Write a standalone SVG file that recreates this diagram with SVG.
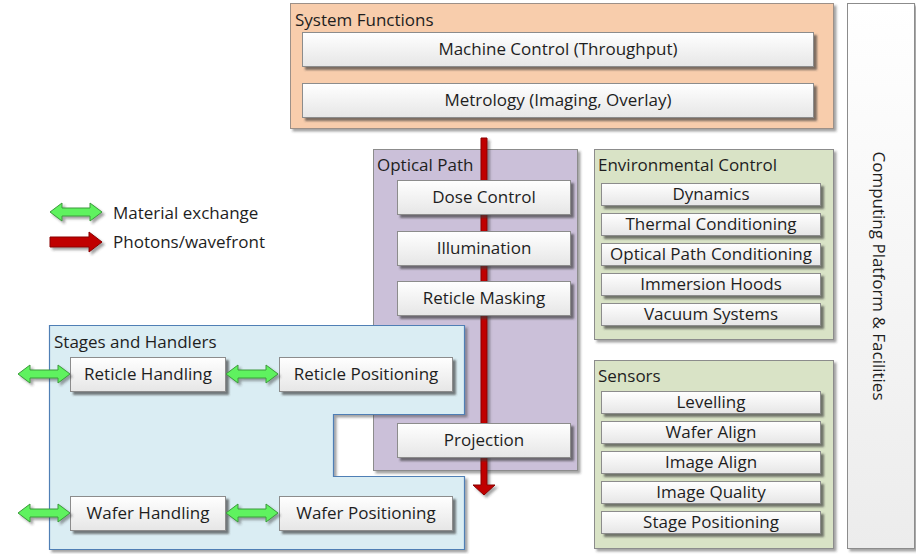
<svg xmlns="http://www.w3.org/2000/svg" width="916" height="554" viewBox="0 0 916 554">
  <defs>
    <filter id="shadow" x="-10%" y="-10%" width="130%" height="140%">
      <feDropShadow dx="3" dy="3" stdDeviation="0.8" flood-color="#3a3a3a" flood-opacity="0.65"/>
    </filter>
    <filter id="softshadow" x="-10%" y="-10%" width="130%" height="140%">
      <feDropShadow dx="2.5" dy="2.5" stdDeviation="1" flood-color="#303030" flood-opacity="0.45"/>
    </filter>
    <linearGradient id="boxfill" x1="0" y1="0" x2="0" y2="1">
      <stop offset="0" stop-color="#ffffff"/>
      <stop offset="1" stop-color="#e6e6e6"/>
    </linearGradient>
    <linearGradient id="platfill" x1="0" y1="0" x2="0" y2="1">
      <stop offset="0" stop-color="#ffffff"/>
      <stop offset="1" stop-color="#ececec"/>
    </linearGradient>
    <!-- double-headed green arrow, 52 wide, centred on y=0 -->
    <path id="dbl" d="M0,0 L12,-9 L12,-4 L40,-4 L40,-9 L52,0 L40,9 L40,4 L12,4 L12,9 Z"/>
  </defs>
  <style>
    text { font-family: "Open Sans", Lato, "DejaVu Sans", sans-serif; fill: #1e1e1e; font-size: 17px; }
    .lbl, .sm { text-anchor: middle; }
    .box { fill: url(#boxfill); stroke: #8c8c8c; stroke-width: 1; filter: url(#shadow); }
    .green { fill: #5ef25e; stroke: #3c9a3c; stroke-width: 1; filter: url(#softshadow); }
    .red { fill: #c00000; stroke: #8a0000; stroke-width: 1; }
  </style>

  <rect width="916" height="554" fill="#ffffff"/>

  <!-- Computing platform column -->
  <g id="computing-platform">
    <rect x="847.5" y="3.5" width="67" height="545" fill="url(#platfill)" stroke="#8c8c8c" filter="url(#softshadow)"/>
    <text class="title" transform="translate(873,276) rotate(90)" text-anchor="middle">Computing Platform &amp; Facilities</text>
  </g>

  <!-- System functions -->
  <g id="system-functions">
    <rect x="290.5" y="3.5" width="543" height="125" fill="#f8cdac" stroke="#9c9088" filter="url(#softshadow)"/>
    <text class="title" x="295" y="26">System Functions</text>
    <g id="machine-control">
      <rect class="box" x="302.5" y="32.5" width="511" height="34"/>
      <text class="lbl" x="558" y="54.5">Machine Control (Throughput)</text>
    </g>
    <g id="metrology">
      <rect class="box" x="302.5" y="83.5" width="511" height="34"/>
      <text class="lbl" x="558" y="105.5">Metrology (Imaging, Overlay)</text>
    </g>
  </g>

  <!-- Optical path container -->
  <g id="optical-path">
    <rect x="373.5" y="149.5" width="204" height="321" fill="#cbc0d9" stroke="#8c8c8c" filter="url(#softshadow)"/>
    <text class="title" x="377" y="171">Optical Path</text>
  </g>

  <!-- Connectors: photon path through the optics -->
  <g id="connectors">
    <path class="red" d="M481,138 L487,138 L487,485 L495,485 L484,495 L473,485 L481,485 Z" filter="url(#softshadow)"/>
  </g>

  <g id="dose-control">
    <rect class="box" x="397.5" y="180.5" width="173" height="34"/>
    <text class="lbl" x="484" y="202.5">Dose Control</text>
  </g>
  <g id="illumination">
    <rect class="box" x="397.5" y="231.5" width="173" height="34"/>
    <text class="lbl" x="484" y="253.5">Illumination</text>
  </g>
  <g id="reticle-masking">
    <rect class="box" x="397.5" y="281.5" width="173" height="34"/>
    <text class="lbl" x="484" y="303.5">Reticle Masking</text>
  </g>
  <g id="projection">
    <rect class="box" x="397.5" y="423.5" width="173" height="34"/>
    <text class="lbl" x="484" y="445.5">Projection</text>
  </g>

  <!-- Stages and handlers (notched around the projection optics) -->
  <g id="stages-and-handlers">
    <path d="M49.5,325.5 L464.5,325.5 L464.5,414.5 L333.5,414.5 L333.5,476.5 L464.5,476.5 L464.5,549.5 L49.5,549.5 Z" fill="#daedf3" stroke="#4f7fb5" stroke-width="1.2" filter="url(#softshadow)"/>
    <text class="title" x="54" y="348">Stages and Handlers</text>
    <g id="reticle-handling">
      <rect class="box" x="70.5" y="357.5" width="155" height="34"/>
      <text class="lbl" x="148" y="379.5">Reticle Handling</text>
    </g>
    <g id="reticle-positioning">
      <rect class="box" x="279.5" y="357.5" width="173" height="34"/>
      <text class="lbl" x="366" y="379.5">Reticle Positioning</text>
    </g>
    <g id="wafer-handling">
      <rect class="box" x="70.5" y="496.5" width="155" height="34"/>
      <text class="lbl" x="148" y="518.5">Wafer Handling</text>
    </g>
    <g id="wafer-positioning">
      <rect class="box" x="279.5" y="496.5" width="173" height="34"/>
      <text class="lbl" x="366" y="518.5">Wafer Positioning</text>
    </g>
    <!-- material exchange arrows -->
    <use href="#dbl" class="green" x="18" y="374"/>
    <use href="#dbl" class="green" x="226" y="374"/>
    <use href="#dbl" class="green" x="18" y="513"/>
    <use href="#dbl" class="green" x="226" y="513"/>
  </g>

  <!-- Environmental control -->
  <g id="environmental-control">
    <rect x="594.5" y="149.5" width="239" height="190" fill="#d9e3c6" stroke="#8c8c8c" filter="url(#softshadow)"/>
    <text class="title" x="598" y="171">Environmental Control</text>
    <g id="dynamics">
      <rect class="box" x="601.5" y="183.5" width="219" height="22"/>
      <text class="sm" x="711" y="200">Dynamics</text>
    </g>
    <g id="thermal-conditioning">
      <rect class="box" x="601.5" y="213.5" width="219" height="22"/>
      <text class="sm" x="711" y="230">Thermal Conditioning</text>
    </g>
    <g id="optical-path-conditioning">
      <rect class="box" x="601.5" y="243.5" width="219" height="22"/>
      <text class="sm" x="711" y="260">Optical Path Conditioning</text>
    </g>
    <g id="immersion-hoods">
      <rect class="box" x="601.5" y="273.5" width="219" height="22"/>
      <text class="sm" x="711" y="290">Immersion Hoods</text>
    </g>
    <g id="vacuum-systems">
      <rect class="box" x="601.5" y="303.5" width="219" height="22"/>
      <text class="sm" x="711" y="320">Vacuum Systems</text>
    </g>
  </g>

  <!-- Sensors -->
  <g id="sensors">
    <rect x="594.5" y="360.5" width="239" height="188" fill="#d9e3c6" stroke="#8c8c8c" filter="url(#softshadow)"/>
    <text class="title" x="598" y="382">Sensors</text>
    <g id="levelling">
      <rect class="box" x="601.5" y="391.5" width="219" height="22"/>
      <text class="sm" x="711" y="408">Levelling</text>
    </g>
    <g id="wafer-align">
      <rect class="box" x="601.5" y="421.5" width="219" height="22"/>
      <text class="sm" x="711" y="438">Wafer Align</text>
    </g>
    <g id="image-align">
      <rect class="box" x="601.5" y="451.5" width="219" height="22"/>
      <text class="sm" x="711" y="468">Image Align</text>
    </g>
    <g id="image-quality">
      <rect class="box" x="601.5" y="481.5" width="219" height="22"/>
      <text class="sm" x="711" y="498">Image Quality</text>
    </g>
    <g id="stage-positioning">
      <rect class="box" x="601.5" y="511.5" width="219" height="22"/>
      <text class="sm" x="711" y="528">Stage Positioning</text>
    </g>
  </g>

  <!-- Legend -->
  <g id="legend">
    <use href="#dbl" class="green" x="50" y="212"/>
    <text class="title" x="113" y="219">Material exchange</text>
    <path class="red" d="M50,237 L89,237 L89,232 L102,242 L89,252 L89,247 L50,247 Z" filter="url(#softshadow)"/>
    <text class="title" x="113" y="248">Photons/wavefront</text>
  </g>
</svg>
